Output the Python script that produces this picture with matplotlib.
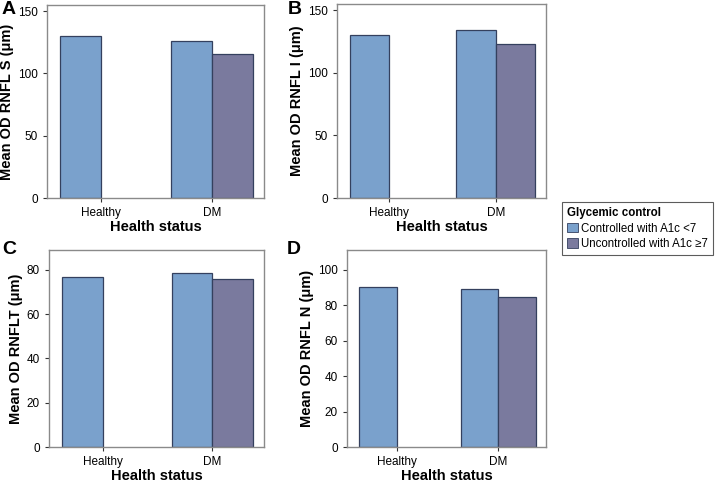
import numpy as np
import matplotlib.pyplot as plt
from matplotlib.patches import Patch

plt.rcParams['font.family'] = ['Liberation Sans', 'DejaVu Sans']

groups = ['Healthy', 'DM']
series = ['Controlled with A1c <7', 'Uncontrolled with A1c \u22657']

# panel data: (letter, ylabel, controlled, uncontrolled, ylim, ticks)
rnfl_s_ctrl = [130.5, 126.4]
rnfl_s_unctrl = [np.nan, 115.5]
rnfl_i_ctrl = [130.2, 134.0]
rnfl_i_unctrl = [np.nan, 123.0]
rnflt_ctrl = [76.7, 78.6]
rnflt_unctrl = [np.nan, 75.8]
rnfl_n_ctrl = [90.0, 88.9]
rnfl_n_unctrl = [np.nan, 84.6]

panels = [
    ('A', 'Mean OD RNFL S (\u03bcm)', rnfl_s_ctrl, rnfl_s_unctrl, 155, [0, 50, 100, 150]),
    ('B', 'Mean OD RNFL I (\u03bcm)', rnfl_i_ctrl, rnfl_i_unctrl, 155, [0, 50, 100, 150]),
    ('C', 'Mean OD RNFLT (\u03bcm)', rnflt_ctrl, rnflt_unctrl, 89, [0, 20, 40, 60, 80]),
    ('D', 'Mean OD RNFL N (\u03bcm)', rnfl_n_ctrl, rnfl_n_unctrl, 111, [0, 20, 40, 60, 80, 100]),
]

c_ctrl = '#7aa1cc'
c_unctrl = '#7a7a9e'
edge = '#34405e'
spine = '#8a8a8a'

W, H = 716, 484
fig = plt.figure(figsize=(W / 100, H / 100), dpi=100)

# axes boxes in pixels: left, top, right, bottom; letter position
boxes = [(47, 5, 264, 198), (337, 4, 546, 198),
         (49, 250, 264, 447), (347, 250, 546, 447)]
letter_pos = [(2, 1), (288, 1), (2, 241), (287, 241)]

bw = 0.37
x = np.arange(len(groups))

for (letter, ylab, ctrl, unctrl, ymax, ticks), (l, t, r, b), (lx, ly) in zip(panels, boxes, letter_pos):
    ax = fig.add_axes([l / W, 1 - b / H, (r - l) / W, (b - t) / H])
    ax.bar(x - bw / 2, ctrl, bw, color=c_ctrl, edgecolor=edge, linewidth=0.9)
    ax.bar(x + bw / 2, unctrl, bw, color=c_unctrl, edgecolor=edge, linewidth=0.9)
    ax.set_xlim(-0.49, 1.47)
    ax.set_ylim(0, ymax)
    ax.set_yticks(ticks)
    ax.set_xticks(x)
    ax.set_xticklabels(groups)
    for s in ax.spines.values():
        s.set_color(spine)
        s.set_linewidth(1.0)
    ax.tick_params(colors='#333333', labelcolor='black', labelsize=8.5, length=3, width=0.8)
    ax.set_ylabel(ylab, fontsize=10.5, fontweight='bold', labelpad=3)
    ax.set_xlabel('Health status', fontsize=10.5, fontweight='bold', labelpad=1)
    fig.text(lx / W, 1 - ly / H, letter, fontsize=14, fontweight='bold',
             va='top', ha='left')

handles = [Patch(facecolor=c_ctrl, edgecolor=edge, linewidth=0.6),
           Patch(facecolor=c_unctrl, edgecolor=edge, linewidth=0.6)]
leg = fig.legend(handles, series, title='Glycemic control', loc='upper left',
                 bbox_to_anchor=(562 / W, 1 - 202 / H), fontsize=8.3,
                 title_fontproperties={'weight': 'bold', 'size': 8.3},
                 frameon=True, fancybox=False, handlelength=0.9, handleheight=0.9,
                 handletextpad=0.3, borderpad=0.45, labelspacing=0.3,
                 borderaxespad=0)
leg._legend_box.align = 'left'
leg.get_frame().set_edgecolor('#333333')
leg.get_frame().set_linewidth(0.8)

fig.savefig('out.png', dpi=100)
